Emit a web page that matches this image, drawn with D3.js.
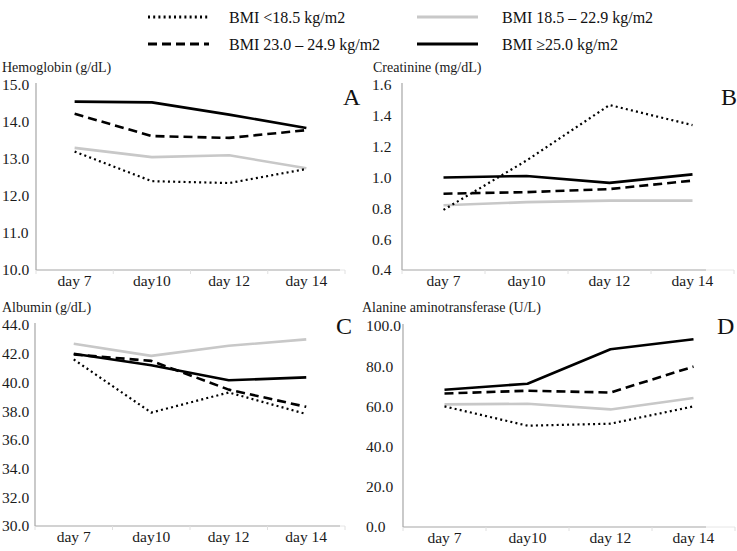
<!DOCTYPE html>
<html>
<head>
<meta charset="utf-8">
<script src="https://cdn.jsdelivr.net/npm/d3@7/dist/d3.min.js"></script>
<style>
  html, body { margin: 0; padding: 0; background: #fff; }
  svg { display: block; font-family: "Liberation Serif", "Times New Roman", serif; }
</style>
</head>
<body>
<svg id="chart" width="737" height="551"></svg>
<script>
// ---- data ----
const days = ["day 7", "day10", "day 12", "day 14"];
const groups = ["BMI <18.5 kg/m2", "BMI 18.5 \u2013 22.9 kg/m2", "BMI 23.0 \u2013 24.9 kg/m2", "BMI \u226525.0 kg/m2"];
// order of rows in each panel array: <18.5, 18.5-22.9, 23.0-24.9, >=25.0
const hemoglobin = [
  [13.2, 12.4, 12.35, 12.73],
  [13.3, 13.05, 13.1, 12.75],
  [14.22, 13.62, 13.57, 13.78],
  [14.55, 14.53, 14.2, 13.84]
];
const creatinine = [
  [0.79, 1.11, 1.47, 1.34],
  [0.82, 0.84, 0.85, 0.85],
  [0.895, 0.905, 0.925, 0.98],
  [1.0, 1.01, 0.965, 1.02]
];
const albumin = [
  [41.6, 37.9, 39.3, 37.8],
  [42.7, 41.85, 42.55, 43.0],
  [41.95, 41.5, 39.5, 38.3],
  [42.0, 41.2, 40.15, 40.35]
];
const alt = [
  [60.0, 50.4, 51.4, 60.0],
  [61.0, 61.3, 58.5, 64.2],
  [66.4, 67.8, 66.9, 79.8],
  [68.3, 71.3, 88.4, 93.4]
];
const hbTicks = [10, 11, 12, 13, 14, 15];
const crTicks = [0.4, 0.6, 0.8, 1.0, 1.2, 1.4, 1.6];
const albTicks = [30, 32, 34, 36, 38, 40, 42, 44];
const altTicks = [0, 20, 40, 60, 80, 100];

// ---- styles ----
const styles = [
  { stroke: "#000", width: 2.2, dash: "2,3.2" },
  { stroke: "#c8c8c8", width: 2.6, dash: null },
  { stroke: "#000", width: 2.6, dash: "9,5" },
  { stroke: "#000", width: 2.6, dash: null }
];

const svg = d3.select("#chart");
const AXIS = "#a6a6a6";
const TXT = "#1a1a1a";

const panels = [
  { title: "Hemoglobin (g/dL)", letter: "A", data: hemoglobin, ticks: hbTicks, fmt: d3.format(".1f"),
    x0: 36, x1: 345, axisEnd: 340, y0: 270, y1: 85, labelX: 2,
    titleX: 2, titleY: 72, letterX: 343, letterY: 105 },
  { title: "Creatinine (mg/dL)", letter: "B", data: creatinine, ticks: crTicks, fmt: d3.format(".1f"),
    x0: 402, x1: 734, axisEnd: 706, y0: 270, y1: 85, labelX: 372,
    titleX: 373, titleY: 72, letterX: 721, letterY: 105 },
  { title: "Albumin (g/dL)", letter: "C", data: albumin, ticks: albTicks, fmt: d3.format(".1f"),
    x0: 35, x1: 345, axisEnd: 340, y0: 526, y1: 325, labelX: 2,
    titleX: 2, titleY: 312, letterX: 336, letterY: 334 },
  { title: "Alanine aminotransferase (U/L)", letter: "D", data: alt, ticks: altTicks, fmt: d3.format(".1f"),
    x0: 403, x1: 735, axisEnd: 706, y0: 527, y1: 326, labelX: 366,
    titleX: 362, titleY: 312, letterX: 717, letterY: 334 }
];

panels.forEach(p => {
  const g = svg.append("g");
  const x = d3.scalePoint().domain(days).range([p.x0, p.x1]).padding(0.5);
  const y = d3.scaleLinear().domain(d3.extent(p.ticks)).range([p.y0, p.y1]);

  g.append("text").attr("x", p.titleX).attr("y", p.titleY)
    .attr("font-size", 14).attr("fill", TXT).text(p.title);
  g.append("text").attr("x", p.letterX).attr("y", p.letterY)
    .attr("font-size", 24).attr("fill", "#111").text(p.letter);

  g.append("line").attr("x1", p.x0).attr("x2", p.x0).attr("y1", y.range()[1] - 2).attr("y2", p.y0)
    .attr("stroke", AXIS).attr("stroke-width", 1.2);
  g.selectAll(".ytl").data(p.ticks).join("text")
    .attr("x", p.labelX).attr("y", d => y(d)).attr("dy", "0.35em")
    .attr("text-anchor", "start").attr("font-size", 15.5).attr("fill", TXT)
    .text(d => p.fmt(d));

  g.append("line").attr("x1", p.x0).attr("x2", p.axisEnd).attr("y1", p.y0).attr("y2", p.y0)
    .attr("stroke", AXIS).attr("stroke-width", 1.2);
  g.append("line").attr("x1", p.axisEnd).attr("x2", p.x1).attr("y1", p.y0).attr("y2", p.y0)
    .attr("stroke", "#e6e6e6").attr("stroke-width", 1);
  const step = x.step();
  const bounds = d3.range(days.length + 1).map(i => p.x0 + i * step);
  g.selectAll(".xt").data(bounds).join("line")
    .attr("x1", d => d).attr("x2", d => d).attr("y1", p.y0).attr("y2", p.y0 + 4)
    .attr("stroke", "#e0e0e0").attr("stroke-width", 1);
  g.selectAll(".xl").data(days).join("text")
    .attr("x", d => x(d)).attr("y", p.y0 + 16).attr("text-anchor", "middle")
    .attr("font-size", 15.5).attr("fill", TXT).text(d => d);

  const line = d3.line().x((d, i) => x(days[i])).y(d => y(d));
  [1, 0, 2, 3].forEach(si => {
    const s = styles[si];
    g.append("path").datum(p.data[si])
      .attr("d", line).attr("fill", "none")
      .attr("stroke", s.stroke).attr("stroke-width", s.width)
      .attr("stroke-dasharray", s.dash)
      .attr("stroke-linejoin", "round");
  });
});

// legend
const legendPos = [
  { lx: 148, tx: 229, y: 17 },
  { lx: 417, tx: 502, y: 17 },
  { lx: 148, tx: 229, y: 44 },
  { lx: 417, tx: 502, y: 44 }
];
const lg = svg.append("g");
groups.forEach((name, i) => {
  const s = styles[i];
  const pos = legendPos[i];
  lg.append("line").attr("x1", pos.lx).attr("x2", pos.lx + 61).attr("y1", pos.y).attr("y2", pos.y)
    .attr("stroke", s.stroke).attr("stroke-width", s.width + 0.6)
    .attr("stroke-dasharray", s.dash);
  lg.append("text").attr("x", pos.tx).attr("y", pos.y).attr("dy", "0.35em")
    .attr("font-size", 16).attr("fill", "#111").text(name);
});
</script>
</body>
</html>
